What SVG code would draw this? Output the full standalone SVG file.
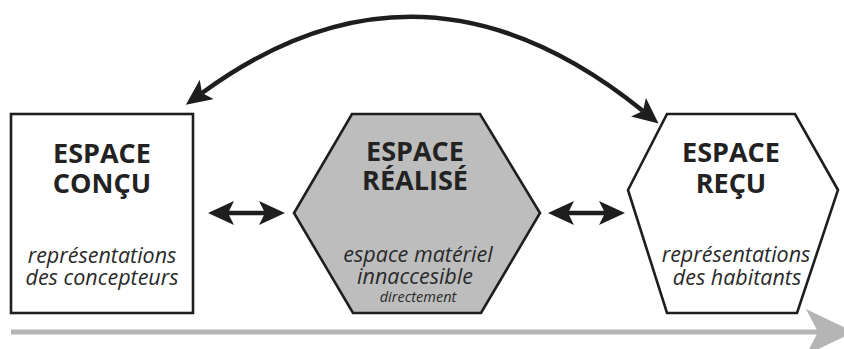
<svg xmlns="http://www.w3.org/2000/svg" width="844" height="349" viewBox="0 0 844 349">
<style>
.node{stroke:#1e1e1e;stroke-width:2.6;stroke-linejoin:miter}
.t{font-family:"Open Sans","Noto Sans",sans-serif;font-weight:bold;font-size:27px;fill:#222;text-anchor:middle}
.i{font-family:"Open Sans","Noto Sans",sans-serif;font-style:italic;font-size:21.5px;fill:#2a2a2a;text-anchor:middle}
.conn{fill:none;stroke:#1e1e1e;stroke-width:4.5}
</style>
<defs>
<marker id="ah" viewBox="0 0 26 24" markerUnits="userSpaceOnUse" markerWidth="26" markerHeight="24" refX="6" refY="12" orient="auto-start-reverse">
<path d="M26,12 L0,0 L6,12 L0,24 Z" fill="#1e1e1e"/>
</marker>
<marker id="gh" viewBox="0 0 48 46" markerUnits="userSpaceOnUse" markerWidth="48" markerHeight="46" refX="12" refY="23" orient="auto">
<path d="M48,23 L0,0 L12,23 L0,46 Z" fill="#b5b5b5"/>
</marker>
</defs>
<rect width="844" height="349" fill="#fff"/>
<g id="connectors">
<path class="conn" d="M202,93 Q422,-68 643,111" marker-start="url(#ah)" marker-end="url(#ah)"/>
<line class="conn" x1="228" y1="213" x2="265" y2="213" marker-start="url(#ah)" marker-end="url(#ah)"/>
<line class="conn" x1="568" y1="213" x2="605" y2="213" marker-start="url(#ah)" marker-end="url(#ah)"/>
<line x1="11" y1="332" x2="818" y2="332" stroke="#b5b5b5" stroke-width="5" marker-end="url(#gh)"/>
</g>
<g id="espace-concu">
<rect class="node" x="11" y="114" width="182" height="199" fill="#fff"/>
<text class="t" x="102" y="163">ESPACE</text>
<text class="t" x="102" y="193">CONÇU</text>
<text class="i" x="102" y="263">représentations</text>
<text class="i" x="102" y="285">des concepteurs</text>
</g>
<g id="espace-realise">
<polygon class="node" points="352,114 480,114 540,213 481,313 353,313 294,213" fill="#bdbdbd"/>
<text class="t" x="415" y="161">ESPACE</text>
<text class="t" x="415" y="190">RÉALISÉ</text>
<text class="i" x="418" y="262">espace matériel</text>
<text class="i" x="415" y="284">innaccesible</text>
<text class="i" x="418" y="302" style="font-size:14.5px">directement</text>
</g>
<g id="espace-recu">
<polygon class="node" points="667,114 795,114 838,190 797,313 667,313 628,190" fill="#fff"/>
<text class="t" x="731" y="162">ESPACE</text>
<text class="t" x="731" y="193">REÇU</text>
<text class="i" x="736" y="262">représentations</text>
<text class="i" x="737" y="285">des habitants</text>
</g>
</svg>
